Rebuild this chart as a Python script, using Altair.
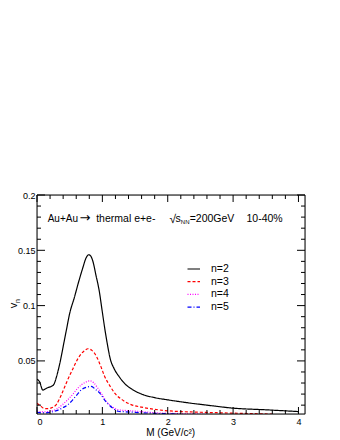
import altair as alt
import pandas as pd

# ---- data ----
M2 = [0.0, 0.04, 0.09, 0.12, 0.17, 0.22, 0.26, 0.3, 0.35, 0.42, 0.45, 0.5, 0.57, 0.63, 0.7, 0.75, 0.79,
      0.82, 0.86, 0.9, 0.95, 1.0, 1.04, 1.08, 1.12, 1.18, 1.26, 1.35, 1.45, 1.6, 1.8, 2.0, 2.3, 2.6, 3.0, 3.5, 4.0]
V2 = [0.0335, 0.031, 0.0235, 0.0245, 0.026, 0.027, 0.029, 0.036, 0.048, 0.069, 0.078, 0.093, 0.107, 0.120,
      0.134, 0.143, 0.146, 0.145, 0.139, 0.128, 0.114, 0.094, 0.078, 0.064, 0.052, 0.043, 0.0355, 0.029,
      0.0245, 0.020, 0.0168, 0.0148, 0.0122, 0.0100, 0.0073, 0.0058, 0.0042]

M3 = [0.0, 0.05, 0.1, 0.15, 0.22, 0.3, 0.37, 0.42, 0.47, 0.55, 0.63, 0.72, 0.78, 0.84, 0.91, 0.97, 1.035,
      1.12, 1.19, 1.3, 1.44, 1.6, 1.8, 2.0, 2.5, 3.0, 3.6]
V3 = [0.0118, 0.0095, 0.0072, 0.0068, 0.0075, 0.011, 0.019, 0.026, 0.033, 0.043, 0.0525, 0.059, 0.061,
      0.0595, 0.054, 0.046, 0.036, 0.027, 0.0208, 0.015, 0.0105, 0.0082, 0.0062, 0.0049, 0.0036, 0.0028, 0.0019]

M4 = [0.0, 0.1, 0.2, 0.3, 0.4, 0.47, 0.55, 0.62, 0.68, 0.75, 0.81, 0.87, 0.93, 1.0, 1.06, 1.15, 1.24,
      1.35, 1.5, 1.8, 2.2, 2.6]
V4 = [0.0045, 0.0040, 0.0045, 0.0065, 0.011, 0.0148, 0.020, 0.025, 0.0284, 0.031, 0.032, 0.030, 0.0254,
      0.019, 0.0133, 0.0085, 0.0058, 0.0052, 0.0046, 0.0032, 0.0024, 0.0019]

M5 = [0.0, 0.1, 0.2, 0.3, 0.4, 0.47, 0.55, 0.62, 0.68, 0.76, 0.83, 0.9, 0.96, 1.03, 1.1, 1.17, 1.24,
      1.35, 1.5, 1.8, 2.2]
V5 = [0.0035, 0.003, 0.0035, 0.005, 0.0078, 0.0103, 0.015, 0.020, 0.0239, 0.0262, 0.0269, 0.024, 0.0209,
      0.015, 0.0103, 0.0068, 0.0045, 0.0040, 0.0035, 0.0026, 0.0020]

LABELS = ["n=2", "n=3", "n=4", "n=5"]
COLORS = ["#000000", "#ff0000", "#ff00ff", "#0000ff"]
DASHES = [[1, 0], [3, 2], [1, 1.5], [4, 2, 1, 2]]

X_MAJOR = [0, 1, 2, 3, 4]
X_MINOR = [0.2, 0.4, 0.6, 0.8, 1.2, 1.4, 1.6, 1.8, 2.2, 2.4, 2.6, 2.8, 3.2, 3.4, 3.6, 3.8]
Y_MAJOR = [0.05, 0.1, 0.15, 0.2]
Y_MINOR = [0.01, 0.02, 0.03, 0.04, 0.06, 0.07, 0.08, 0.09, 0.11, 0.12, 0.13, 0.14, 0.16, 0.17, 0.18, 0.19]

rows = []
for lab, ms, vs in zip(LABELS, [M2, M3, M4, M5], [V2, V3, V4, V5]):
    for m, v in zip(ms, vs):
        rows.append({"n": lab, "M": m, "v": v})
df = pd.DataFrame(rows)

W, H = 268, 219
FONT = "Liberation Sans"
xs = alt.Scale(domain=[0, 4.1], nice=False, zero=False)
ys = alt.Scale(domain=[0.002, 0.2], nice=False, zero=False)

XAXIS = alt.Axis(values=X_MAJOR, format="d", title=None, ticks=False, domain=False, grid=False,
                 labelFontSize=9, labelFont=FONT, labelPadding=3, labelColor="black")
YAXIS = alt.Axis(values=Y_MAJOR, format="~g", title=None, ticks=False, domain=False, grid=False,
                 labelFontSize=9, labelFont=FONT, labelPadding=2, labelColor="black")

lines = alt.Chart(df).mark_line(clip=True, strokeWidth=1.2, interpolate="monotone").encode(
    x=alt.X("M:Q", scale=xs, axis=XAXIS),
    y=alt.Y("v:Q", scale=ys, axis=YAXIS),
    color=alt.Color("n:N", scale=alt.Scale(domain=LABELS, range=COLORS), legend=None),
    strokeDash=alt.StrokeDash("n:N", scale=alt.Scale(domain=LABELS, range=DASHES), legend=None),
)

def xticks(vals, length):
    d = pd.DataFrame({"t": vals})
    base = alt.Chart(d).mark_rule(color="black", strokeWidth=1)
    bot = base.encode(x=alt.X("t:Q", scale=xs, axis=XAXIS), y=alt.value(H), y2=alt.value(H - length))
    top = base.encode(x=alt.X("t:Q", scale=xs, axis=XAXIS), y=alt.value(0), y2=alt.value(length))
    return [bot, top]

def yticks(vals, length):
    d = pd.DataFrame({"t": vals})
    base = alt.Chart(d).mark_rule(color="black", strokeWidth=1)
    left = base.encode(y=alt.Y("t:Q", scale=ys, axis=YAXIS), x=alt.value(0), x2=alt.value(length))
    right = base.encode(y=alt.Y("t:Q", scale=ys, axis=YAXIS), x=alt.value(W), x2=alt.value(W - length))
    return [left, right]

one = pd.DataFrame({"a": [0]})

frame = alt.Chart(one).mark_rect(fillOpacity=0, stroke="black", strokeWidth=1).encode(
    x=alt.value(0), x2=alt.value(W), y=alt.value(0), y2=alt.value(H))

def txt(s, x, y, size=10.5, align="left", baseline="alphabetic", angle=0, font=FONT):
    return alt.Chart(one).mark_text(text=s, align=align, baseline=baseline, fontSize=size,
                                    font=font, color="black", angle=angle).encode(
        x=alt.value(x), y=alt.value(y))

# manual legend (ROOT-style TLegend)
legend_layers = []
for i, (lab, col, dash) in enumerate(zip(LABELS, COLORS, DASHES)):
    yy = 74 + i * 12.7
    legend_layers.append(
        alt.Chart(pd.DataFrame({"n": [lab]})).mark_rule(color=col, strokeDash=dash, strokeWidth=1.2)
        .encode(x=alt.value(150.5), x2=alt.value(163), y=alt.value(yy)))
    legend_layers.append(txt(lab, 174, yy, baseline="middle"))

texts = [
    txt("Au+Au", 10.7, 26.7, size=10),
    txt("\u2192", 42.5, 26.7, size=13, font="DejaVu Sans"),
    txt("thermal e+e-", 59.2, 26.7, size=10.5),
    txt("\u221a", 132.5, 27.5, size=12),
    txt("s", 138.5, 26.7),
    txt("NN", 143.8, 28.5, size=6),
    txt("=200GeV", 152.7, 26.7),
    txt("10-40%", 209.5, 26.7),
    txt("M (GeV/c\u00b2)", 133.7, 238, size=10, align="center", baseline="middle"),
    txt("v", -23, 110.5, size=11, align="center", baseline="middle", angle=270),
    txt("n", -19, 106, size=7, align="center", baseline="middle", angle=270),
]

chart = alt.layer(
    lines,
    *xticks(X_MAJOR, 7), *xticks(X_MINOR, 4),
    *yticks(Y_MAJOR, 8), *yticks(Y_MINOR, 4),
    frame,
    *legend_layers,
    *texts,
).properties(
    width=W, height=H, autosize="none",
    padding={"left": 29, "top": 187, "right": 24, "bottom": 30},
).configure_view(stroke=None).configure(background="white")

chart.save("out.html", embed_options={"renderer": "svg", "actions": False})
